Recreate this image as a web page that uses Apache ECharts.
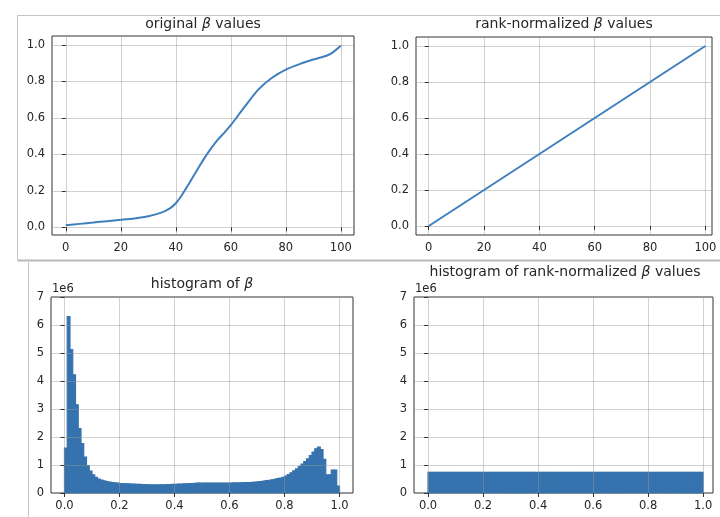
<!DOCTYPE html>
<html>
<head>
<meta charset="utf-8">
<script src="https://cdn.jsdelivr.net/npm/echarts@6/dist/echarts.min.js"></script>
<style>html,body{margin:0;padding:0;background:#fff;}#chart{width:720px;height:517px;}</style>
</head>
<body>
<div id="chart"></div>
<script>
// ---- data ----
const origX = [0, 5, 10, 15, 20, 25, 30, 35, 38, 40, 42, 45, 48, 50, 52, 55, 58, 60, 65, 70, 75, 80, 85, 90, 95, 97, 100];
const origY = [0.012, 0.019, 0.026, 0.034, 0.041, 0.049, 0.061, 0.082, 0.105, 0.132, 0.172, 0.245, 0.32, 0.37, 0.415, 0.475, 0.525, 0.56, 0.66, 0.755, 0.82, 0.865, 0.895, 0.92, 0.942, 0.958, 0.995];
const rankX = [0, 20, 40, 60, 80, 100];
const rankY = [0, 0.2, 0.4, 0.6, 0.8, 1.0];
// histogram counts, in units of 1e6, 100 bins over [0,1]
const histCounts = [
  1.60, 6.30, 5.12, 4.22, 3.15, 2.30, 1.76, 1.28, 0.98, 0.78,
  0.65, 0.56, 0.50, 0.46, 0.43, 0.41, 0.39, 0.375, 0.36, 0.35,
  0.34, 0.335, 0.33, 0.325, 0.32, 0.315, 0.31, 0.305, 0.30, 0.30,
  0.295, 0.29, 0.29, 0.29, 0.29, 0.29, 0.295, 0.30, 0.30, 0.305,
  0.31, 0.315, 0.32, 0.325, 0.33, 0.335, 0.34, 0.345, 0.35, 0.35,
  0.352, 0.355, 0.355, 0.357, 0.357, 0.357, 0.357, 0.357, 0.357, 0.357,
  0.357, 0.36, 0.36, 0.362, 0.365, 0.368, 0.37, 0.375, 0.38, 0.39,
  0.40, 0.41, 0.425, 0.44, 0.455, 0.47, 0.49, 0.51, 0.535, 0.56,
  0.60, 0.66, 0.72, 0.79, 0.86, 0.94, 1.03, 1.12, 1.22, 1.34,
  1.46, 1.58, 1.64, 1.55, 1.20, 0.65, 0.65, 0.82, 0.82, 0.25
];
const rankHistCounts = [
  0.74, 0.74, 0.74, 0.74, 0.74, 0.74, 0.74, 0.74, 0.74, 0.74,
  0.74, 0.74, 0.74, 0.74, 0.74, 0.74, 0.74, 0.74, 0.74, 0.74,
  0.74, 0.74, 0.74, 0.74, 0.74, 0.74, 0.74, 0.74, 0.74, 0.74,
  0.74, 0.74, 0.74, 0.74, 0.74, 0.74, 0.74, 0.74, 0.74, 0.74,
  0.74, 0.74, 0.74, 0.74, 0.74, 0.74, 0.74, 0.74, 0.74, 0.74,
  0.74, 0.74, 0.74, 0.74, 0.74, 0.74, 0.74, 0.74, 0.74, 0.74,
  0.74, 0.74, 0.74, 0.74, 0.74, 0.74, 0.74, 0.74, 0.74, 0.74,
  0.74, 0.74, 0.74, 0.74, 0.74, 0.74, 0.74, 0.74, 0.74, 0.74,
  0.74, 0.74, 0.74, 0.74, 0.74, 0.74, 0.74, 0.74, 0.74, 0.74,
  0.74, 0.74, 0.74, 0.74, 0.74, 0.74, 0.74, 0.74, 0.74, 0.74
];
const histRange = [0, 1];
const lineTicksX = [0, 20, 40, 60, 80, 100];
const lineTicksY = [0, 0.2, 0.4, 0.6, 0.8, 1.0];
const histTicksX = [0, 0.2, 0.4, 0.6, 0.8, 1.0];
const titles = ['original {b|β} values', 'rank-normalized {b|β} values', 'histogram of {b|β}', 'histogram of rank-normalized {b|β} values'];

// ---- styling ----
const FONT = 'DejaVu Sans';
const TXT = '#262626';
const LINE_C = '#3f7fbd';
const BAR_C = '#3673ae';
const GRID_C = 'rgba(150,150,150,0.45)';

function toBins(counts) {
  const n = counts.length, w = (histRange[1] - histRange[0]) / n;
  return counts.map((c, i) => [histRange[0] + i * w, histRange[0] + (i + 1) * w, c]);
}

function renderHist(params, api) {
  const p0 = api.coord([api.value(0), api.value(2)]);
  const p1 = api.coord([api.value(1), 0]);
  return {
    type: 'rect',
    shape: { x: p0[0], y: p0[1], width: p1[0] - p0[0], height: p1[1] - p0[1] },
    style: { fill: BAR_C, stroke: BAR_C, lineWidth: 1.2 }
  };
}

const grids = [
  { left: 52, top: 36, width: 302, height: 199 },
  { left: 416, top: 37, width: 296, height: 198 },
  { left: 51, top: 297, width: 302, height: 196 },
  { left: 414, top: 297, width: 299, height: 196 }
].map(g => Object.assign(g, { show: true, borderColor: '#333', borderWidth: 1, backgroundColor: 'transparent', containLabel: false }));

function axisCommon(customVals, fmt) {
  const o = {
    z: 5,
    axisLine: { show: false },
    axisTick: { show: true, inside: false, length: 4, lineStyle: { color: '#333' } },
    axisLabel: { color: TXT, fontFamily: FONT, fontSize: 11.5, margin: 7, formatter: fmt },
    splitLine: { show: true, lineStyle: { color: GRID_C, width: 1 } }
  };
  if (customVals) {
    o.axisTick.customValues = customVals;
    o.axisLabel.customValues = customVals;
  }
  return o;
}

const xAxes = [
  Object.assign({ type: 'value', gridIndex: 0, min: -5, max: 104.8 }, axisCommon(lineTicksX, v => String(Math.round(v)))),
  Object.assign({ type: 'value', gridIndex: 1, min: -4.6, max: 102.4 }, axisCommon(lineTicksX, v => String(Math.round(v)))),
  Object.assign({ type: 'value', gridIndex: 2, min: -0.049, max: 1.049 }, axisCommon(histTicksX, v => v.toFixed(1))),
  Object.assign({ type: 'value', gridIndex: 3, min: -0.051, max: 1.036 }, axisCommon(histTicksX, v => v.toFixed(1)))
];
const yAxes = [
  Object.assign({ type: 'value', gridIndex: 0, min: -0.042, max: 1.049 }, axisCommon(lineTicksY, v => v.toFixed(1))),
  Object.assign({ type: 'value', gridIndex: 1, min: -0.05, max: 1.05 }, axisCommon(lineTicksY, v => v.toFixed(1))),
  Object.assign({ type: 'value', gridIndex: 2, min: 0, max: 7, interval: 1 }, axisCommon(null, v => String(v))),
  Object.assign({ type: 'value', gridIndex: 3, min: 0, max: 7, interval: 1 }, axisCommon(null, v => String(v)))
];

const titlePos = [[203, 24], [564, 24], [202, 284], [565, 272]];
const graphics = titles.map((t, i) => ({
  type: 'text', x: titlePos[i][0], y: titlePos[i][1], z: 10,
  style: {
    text: t, fill: TXT, font: '14px "' + FONT + '"', align: 'center', verticalAlign: 'middle',
    rich: { b: { fontStyle: 'italic', fontFamily: FONT, fontSize: 14, fill: TXT } }
  }
}));
// offset text "1e6"
graphics.push({ type: 'text', x: 52, y: 289, style: { text: '1e6', fill: TXT, font: '11.5px "' + FONT + '"', align: 'left', verticalAlign: 'middle' } });
graphics.push({ type: 'text', x: 415, y: 289, style: { text: '1e6', fill: TXT, font: '11.5px "' + FONT + '"', align: 'left', verticalAlign: 'middle' } });
// screenshot frame lines
const FR = '#c4c4c4';
graphics.push({ type: 'line', shape: { x1: 17.5, y1: 15.5, x2: 720, y2: 15.5 }, style: { stroke: FR, lineWidth: 1 } });
graphics.push({ type: 'line', shape: { x1: 17.5, y1: 15.5, x2: 17.5, y2: 260 }, style: { stroke: FR, lineWidth: 1 } });
graphics.push({ type: 'line', shape: { x1: 17.5, y1: 260.5, x2: 720, y2: 260.5 }, style: { stroke: '#b8b8b8', lineWidth: 2 } });
graphics.push({ type: 'line', shape: { x1: 28.5, y1: 262, x2: 28.5, y2: 517 }, style: { stroke: FR, lineWidth: 1 } });

const option = {
  animation: false,
  backgroundColor: '#fff',
  grid: grids,
  xAxis: xAxes,
  yAxis: yAxes,
  graphic: graphics,
  series: [
    { type: 'line', z: 6, xAxisIndex: 0, yAxisIndex: 0, data: origX.map((x, i) => [x, origY[i]]), smooth: 0.3, showSymbol: false, lineStyle: { color: LINE_C, width: 2 } },
    { type: 'line', z: 6, xAxisIndex: 1, yAxisIndex: 1, data: rankX.map((x, i) => [x, rankY[i]]), showSymbol: false, lineStyle: { color: LINE_C, width: 2 } },
    { type: 'custom', z: 2, xAxisIndex: 2, yAxisIndex: 2, data: toBins(histCounts), renderItem: renderHist, encode: { x: [0, 1], y: 2 } },
    { type: 'custom', z: 2, xAxisIndex: 3, yAxisIndex: 3, data: toBins(rankHistCounts), renderItem: renderHist, encode: { x: [0, 1], y: 2 } }
  ]
};

const chart = echarts.init(document.getElementById('chart'), null, { renderer: 'canvas' });
chart.setOption(option);
</script>
</body>
</html>
